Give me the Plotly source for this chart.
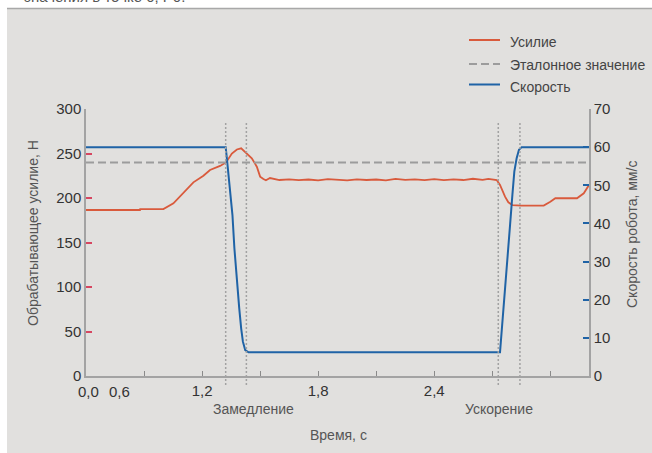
import plotly.graph_objects as go

# ---------------- data ----------------
force_t = [0.6, 0.879, 0.88, 1.0, 1.052, 1.103, 1.155, 1.207, 1.241, 1.293, 1.324,
           1.354, 1.380, 1.402, 1.430, 1.457, 1.483, 1.500, 1.517, 1.530, 1.551, 1.575,
           1.60, 1.65, 1.70, 1.75, 1.80, 1.85, 1.90, 1.95, 2.00, 2.05, 2.10, 2.15,
           2.20, 2.25, 2.30, 2.35, 2.40, 2.45, 2.50, 2.55, 2.60, 2.65, 2.68,
           2.723, 2.740, 2.766, 2.783, 2.804, 2.85, 2.966, 3.000, 3.026, 3.138, 3.173, 3.2]
force_n = [186.5, 186.5, 187.6, 187.6, 194.0, 206.0, 217.6, 225.1, 231.5, 236.0, 240.0,
           250.0, 254.5, 255.8, 250.2, 244.6, 235.2, 224.0, 221.3, 220.0, 222.4, 221.3,
           220.2, 221.0, 220.0, 220.8, 219.9, 221.2, 220.6, 219.8, 221.0, 220.2, 220.8, 219.9,
           221.5, 220.3, 220.9, 220.0, 221.3, 220.0, 220.9, 220.2, 221.6, 220.4, 221.5,
           220.2, 214.6, 201.5, 195.2, 192.1, 191.5, 191.5, 195.8, 199.7, 199.7, 205.3, 214.6]

ref_t = [0.6, 3.2]
ref_n = [240, 240]

speed_t = [0.6, 1.322, 1.328, 1.345, 1.357, 1.367, 1.380, 1.392, 1.402, 1.411, 1.423, 1.440,
           2.740, 2.748, 2.757, 2.769, 2.780, 2.792, 2.804, 2.814, 2.826, 2.838, 2.852, 3.2]
speed_v = [60, 60, 57.1, 48.3, 42.2, 33.5, 24.7, 17.8, 12.5, 9.0, 6.8, 6.2,
           6.2, 11.6, 18.6, 25.6, 31.7, 39.6, 47.5, 53.6, 57.1, 59.3, 60, 60]

event_t = [1.322, 1.429, 2.731, 2.843]

x_ticks = [0.9, 1.2, 1.5, 1.8, 2.1, 2.4, 2.7, 3.0]
x_ticktext = ["", "1,2", "", "1,8", "", "2,4", "", ""]
y1_ticks = [0, 50, 100, 150, 200, 250, 300]
y2_ticks = [0, 10, 20, 30, 40, 50, 60, 70]

names = ["Усилие", "Эталонное значение", "Скорость"]

# ---------------- layout helpers (pixel -> paper) ----------------
W, H = 652, 453
L, R, T, B = 86, 589, 109, 376


def px(x):
    return (x - L) / (R - L)


def py(y):
    return (B - y) / (B - T)


BG = "#e1e0de"
RED = "#d95a3c"
BLUE = "#1f63a6"
GRAY = "#9c9c9c"
FONT = "Liberation Sans"
colors = [RED, GRAY, BLUE]
dashes = ["solid", "8px,4px", "solid"]

fig = go.Figure()
fig.add_trace(go.Scatter(x=force_t, y=force_n, name=names[0], mode="lines",
                         line=dict(color=RED, width=1.8)))
fig.add_trace(go.Scatter(x=ref_t, y=ref_n, name=names[1], mode="lines",
                         line=dict(color=GRAY, width=2, dash=dashes[1])))
fig.add_trace(go.Scatter(x=speed_t, y=speed_v, name=names[2], mode="lines", yaxis="y2",
                         line=dict(color=BLUE, width=2)))

shapes = []
for t in event_t:
    shapes.append(dict(type="line", xref="x", yref="paper", x0=t, x1=t,
                       y0=py(385), y1=py(121.7),
                       line=dict(color="#a2a2a2", width=1.5, dash="2px,2px")))
# white page margins and rule above the panel
shapes.append(dict(type="rect", xref="paper", yref="paper", x0=px(0), x1=px(7),
                   y0=py(453), y1=py(0), fillcolor="white", line=dict(width=0), layer="below"))
shapes.append(dict(type="rect", xref="paper", yref="paper", x0=px(0), x1=px(652),
                   y0=py(8.5), y1=py(0), fillcolor="white", line=dict(width=0), layer="below"))
shapes.append(dict(type="line", xref="paper", yref="paper", x0=px(7), x1=px(652),
                   y0=py(8.5), y1=py(8.5), line=dict(color="#a8a8a8", width=1.5)))

# legend (swatches + labels)
swatch_y = [40, 64, 84.5]
label_y = [42.5, 65, 87]
annots = []
for i, nm in enumerate(names):
    shapes.append(dict(type="line", xref="paper", yref="paper", x0=px(469), x1=px(500),
                       y0=py(swatch_y[i]), y1=py(swatch_y[i]),
                       line=dict(color=colors[i], width=2, dash=dashes[i])))
    annots.append(dict(text=nm, x=px(508), y=py(label_y[i]), xanchor="left", yanchor="middle",
                       font=dict(size=14, color="#444444")))

annots += [
    dict(text="значения в точке 0, Р0.", x=px(22), y=py(6.5), xanchor="left", yanchor="bottom",
         font=dict(size=15, color="#555555")),
    dict(text="0,0", x=px(88), y=py(380.5), xanchor="center", yanchor="top",
         font=dict(size=15, color="#333333")),
    dict(text="0,6", x=px(119), y=py(380.5), xanchor="center", yanchor="top",
         font=dict(size=15, color="#333333")),
    dict(text="Замедление", x=px(253), y=py(409), xanchor="center", yanchor="middle",
         font=dict(size=14, color="#555555")),
    dict(text="Ускорение", x=px(498.5), y=py(409), xanchor="center", yanchor="middle",
         font=dict(size=14, color="#555555")),
    dict(text="Время, с", x=px(338), y=py(435), xanchor="center", yanchor="middle",
         font=dict(size=14, color="#555555")),
    dict(text="Обрабатывающее усилие, Н", x=px(33), y=py(233), xanchor="center",
         yanchor="middle", textangle=-90, font=dict(size=14, color="#555555")),
    dict(text="Скорость робота, мм/с", x=px(632), y=py(235), xanchor="center",
         yanchor="middle", textangle=-90, font=dict(size=14, color="#555555")),
]
for a in annots:
    a.update(xref="paper", yref="paper", showarrow=False)

fig.update_layout(
    width=W, height=H,
    margin=dict(l=L, r=W - R, t=T, b=H - B),
    paper_bgcolor=BG, plot_bgcolor=BG,
    font=dict(family=FONT, color="#333333"),
    shapes=shapes, annotations=annots, showlegend=False,
    xaxis=dict(range=[0.6, 3.2], showgrid=False, zeroline=False, showline=True,
               linecolor="#a3a3a3", linewidth=1.5, tickvals=x_ticks, ticktext=x_ticktext,
               ticks="inside", ticklen=5, tickcolor="#8a8a8a", tickwidth=1,
               tickfont=dict(size=15, color="#333333")),
    yaxis=dict(range=[0, 300], showgrid=False, zeroline=False, showline=True,
               linecolor="#a3a3a3", linewidth=1.5, tickvals=y1_ticks, ticks="",
               tickfont=dict(size=15, color="#333333"),
               minor=dict(tickmode="array", tickvals=[50, 100, 150, 200, 250], ticks="inside",
                          ticklen=6, tickcolor="#d64660", tickwidth=1.5)),
    yaxis2=dict(range=[0, 70], overlaying="y", side="right", showgrid=False, zeroline=False,
                showline=True, linecolor="#a3a3a3", linewidth=1.5, tickvals=y2_ticks, ticks="",
                tickfont=dict(size=15, color="#333333"),
                minor=dict(tickmode="array", tickvals=[10, 20, 30, 40, 50, 60], ticks="inside",
                           ticklen=6, tickcolor=BLUE, tickwidth=1.5)),
)

fig.write_html("out.html", config={"displayModeBar": False},
               post_script="document.body.style.margin='0px';")
